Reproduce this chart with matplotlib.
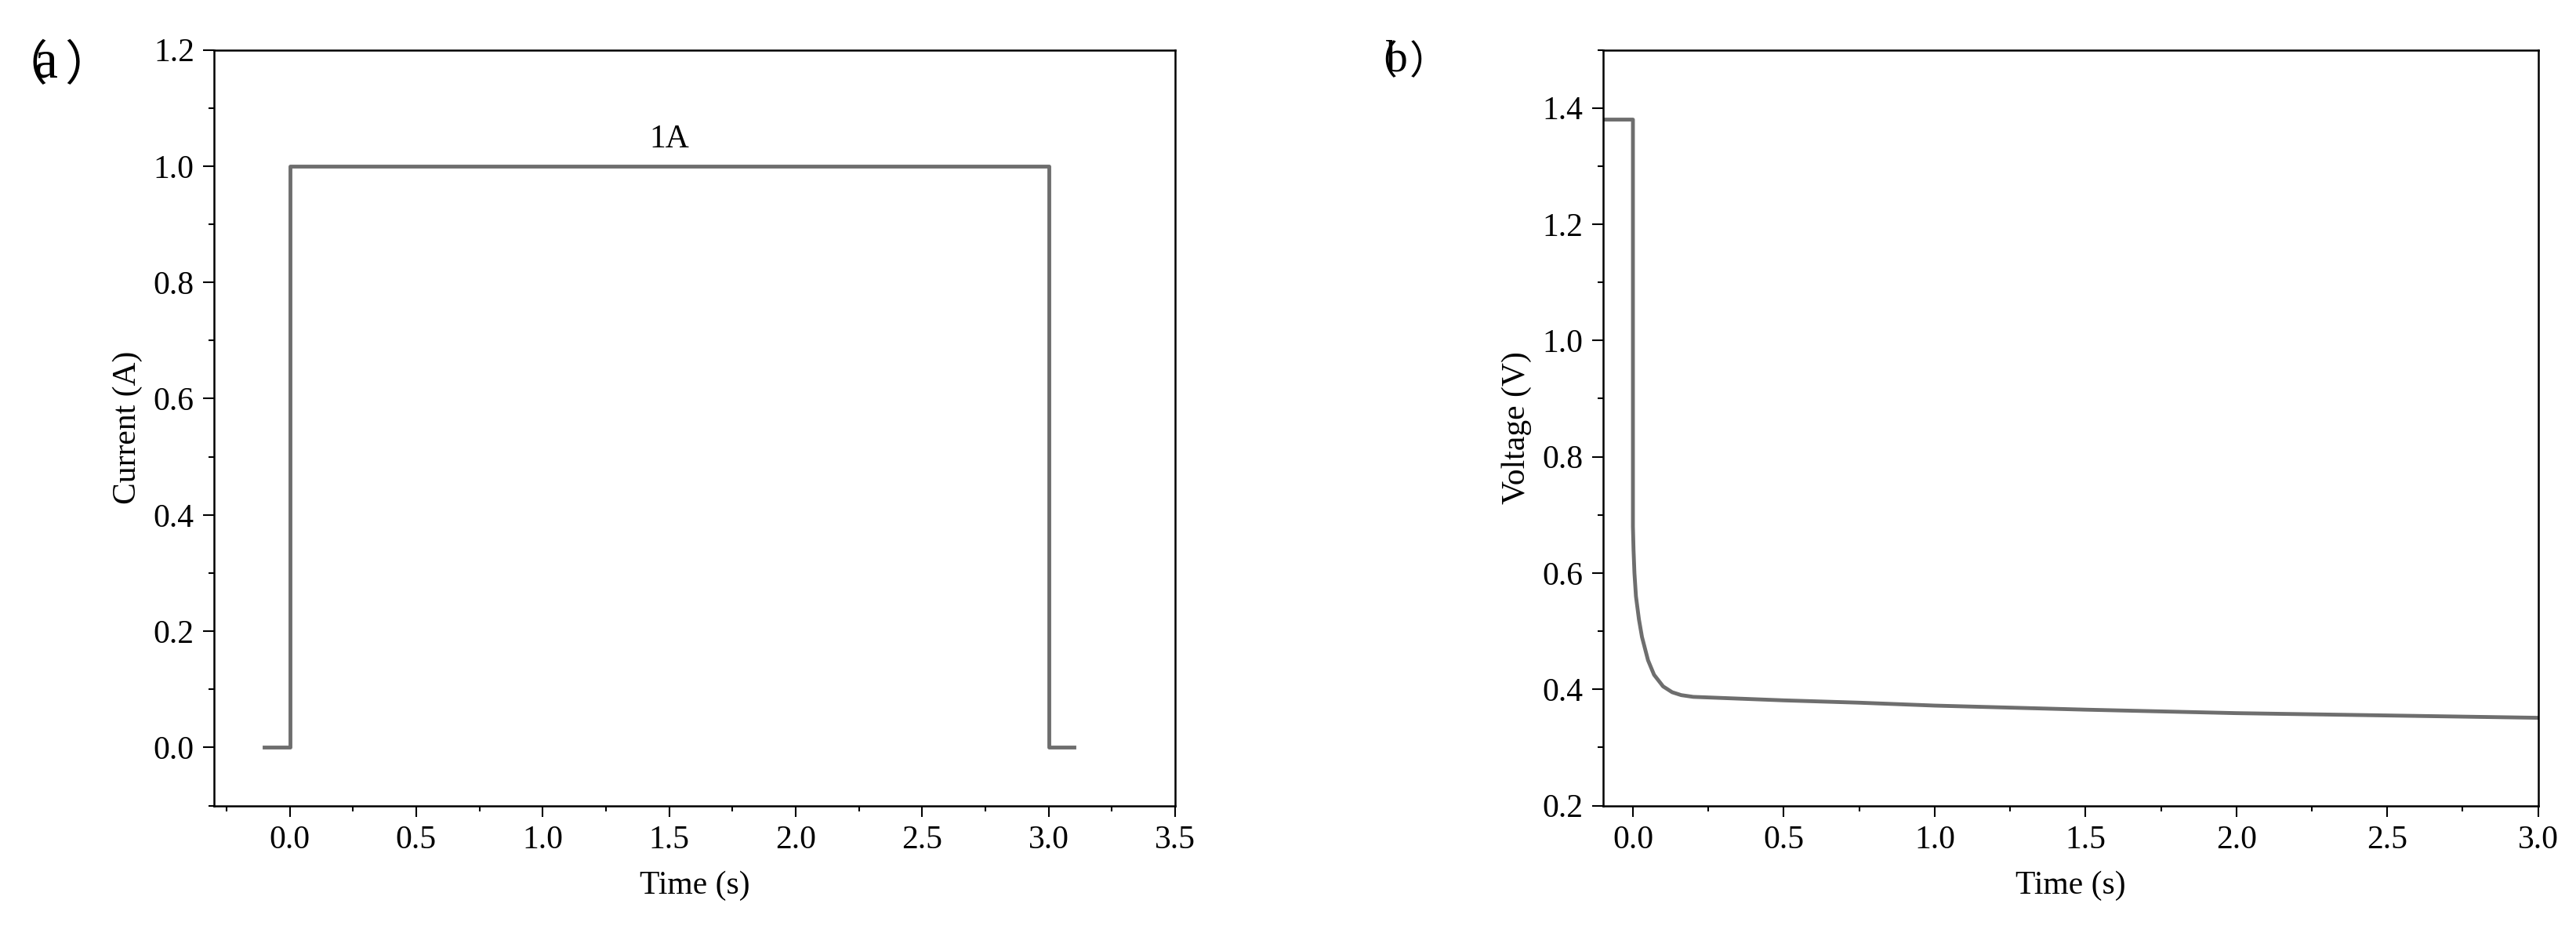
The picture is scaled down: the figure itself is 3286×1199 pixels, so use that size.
import matplotlib
matplotlib.use("Agg")
import matplotlib.pyplot as plt
from matplotlib.ticker import MultipleLocator

plt.rcParams['font.family'] = ['Liberation Serif', 'Noto Sans CJK SC']

# panel (a): current pulse
cur_t = [-0.1, 0.0, 0.0, 3.0, 3.0, 3.1]
cur_i = [0.0, 0.0, 1.0, 1.0, 0.0, 0.0]

# panel (b): voltage response
volt_t = [-0.1, 0.0, 0.0, 0.002, 0.005, 0.01, 0.02, 0.03, 0.05, 0.07, 0.1, 0.13, 0.16, 0.2,
          0.3, 0.5, 0.75, 1.0, 1.5, 2.0, 2.5, 3.0]
volt_v = [1.38, 1.38, 0.68, 0.64, 0.60, 0.56, 0.52, 0.49, 0.45, 0.425, 0.405, 0.395, 0.39, 0.387,
          0.385, 0.381, 0.377, 0.372, 0.365, 0.359, 0.355, 0.351]

line_color = '#6e6e6e'
fs = 30

fig = plt.figure(figsize=(32.87, 11.99), dpi=100)
ax1 = fig.add_axes([0.083, 0.143, 0.373, 0.804])
ax2 = fig.add_axes([0.622, 0.143, 0.363, 0.804])

ax1.plot(cur_t, cur_i, color=line_color, lw=3.5)
ax1.set_xlim(-0.3, 3.5)
ax1.set_ylim(-0.1, 1.2)
ax1.xaxis.set_major_locator(MultipleLocator(0.5))
ax1.xaxis.set_minor_locator(MultipleLocator(0.25))
ax1.yaxis.set_major_locator(MultipleLocator(0.2))
ax1.yaxis.set_minor_locator(MultipleLocator(0.1))
ax1.set_xlabel('Time (s)', fontsize=fs, labelpad=14)
ax1.set_ylabel('Current (A)', fontsize=fs, labelpad=10)
ax1.text(1.5, 1.02, '1A', ha='center', va='bottom', fontsize=fs)
fig.text(0.0, 0.955, '（', fontsize=44, va='top', ha='left', family='Noto Sans CJK SC')
fig.text(0.013, 0.958, 'a', fontsize=50, va='top', ha='left')
fig.text(0.025, 0.955, '）', fontsize=44, va='top', ha='left', family='Noto Sans CJK SC')

ax2.plot(volt_t, volt_v, color=line_color, lw=3.5)
ax2.set_xlim(-0.1, 3.0)
ax2.set_ylim(0.2, 1.5)
ax2.xaxis.set_major_locator(MultipleLocator(0.5))
ax2.xaxis.set_minor_locator(MultipleLocator(0.25))
ax2.yaxis.set_major_locator(MultipleLocator(0.2))
ax2.yaxis.set_minor_locator(MultipleLocator(0.1))
ax2.set_xlabel('Time (s)', fontsize=fs, labelpad=14)
ax2.set_ylabel('Voltage (V)', fontsize=fs, labelpad=10)
fig.text(0.527, 0.955, '（', fontsize=36, va='top', ha='left', family='Noto Sans CJK SC')
fig.text(0.538, 0.958, 'b', fontsize=40, va='top', ha='left')
fig.text(0.547, 0.955, '）', fontsize=36, va='top', ha='left', family='Noto Sans CJK SC')

for ax in (ax1, ax2):
    ax.tick_params(which='major', direction='out', length=10, width=1.5, labelsize=fs, pad=8)
    ax.tick_params(which='minor', direction='out', length=5, width=1.5)
    ax.yaxis.set_major_formatter(plt.FormatStrFormatter('%.1f'))
    ax.xaxis.set_major_formatter(plt.FormatStrFormatter('%.1f'))
    for s in ax.spines.values():
        s.set_linewidth(1.8)

fig.savefig('out.png', dpi=100)
